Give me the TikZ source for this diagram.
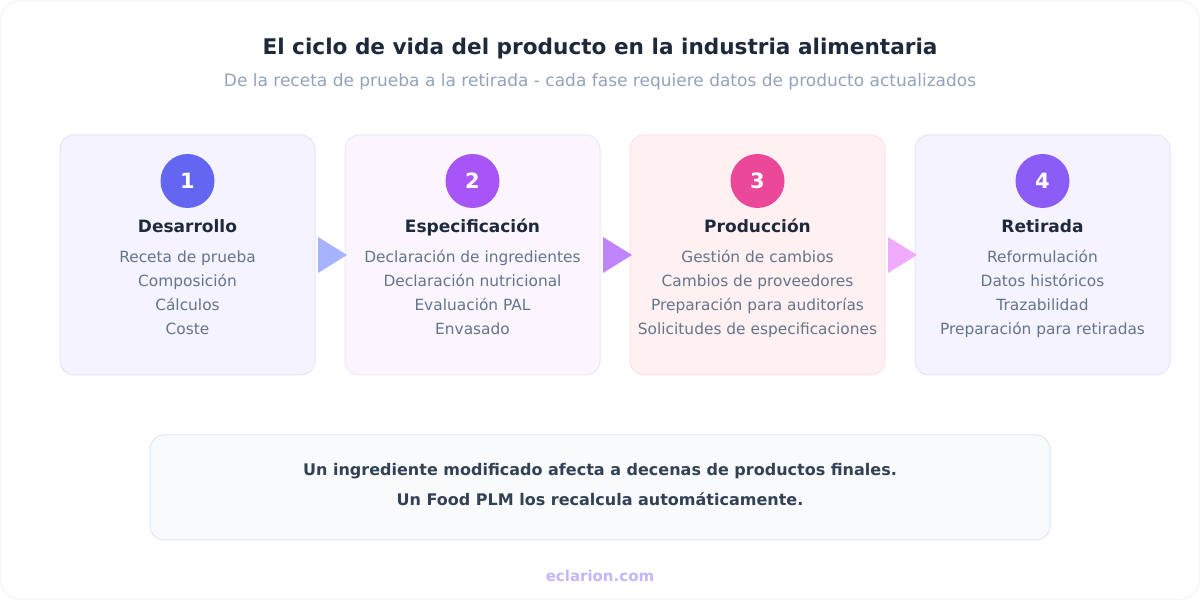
\documentclass[tikz,border=0pt]{standalone}
\usepackage{fontspec}
\setmainfont{DejaVu Sans}
\usetikzlibrary{positioning,calc}

\definecolor{titlecol}{HTML}{1E293B}
\definecolor{subcol}{HTML}{94A3B8}
\definecolor{itemcol}{HTML}{64748B}
\definecolor{notecol}{HTML}{334155}
\definecolor{notefill}{HTML}{F8FAFC}
\definecolor{noteline}{HTML}{E2E8F0}
\definecolor{footcol}{HTML}{C4B5FD}
\definecolor{fillA}{HTML}{F5F3FF}\definecolor{lineA}{HTML}{E4E4FB}
\definecolor{fillB}{HTML}{FAF5FF}\definecolor{lineB}{HTML}{F1E6FD}
\definecolor{fillC}{HTML}{FFF1F2}\definecolor{lineC}{HTML}{FDE2E6}
\definecolor{fillD}{HTML}{F5F3FF}\definecolor{lineD}{HTML}{E9E5FD}
\definecolor{numA}{HTML}{6366F1}
\definecolor{numB}{HTML}{A855F7}
\definecolor{numC}{HTML}{EC4899}
\definecolor{numD}{HTML}{8B5CF6}
\definecolor{arrA}{HTML}{A5B4FC}
\definecolor{arrB}{HTML}{C084FC}
\definecolor{arrC}{HTML}{F0ABFC}

\tikzset{
  phase/.style={draw=#1, line width=1pt, rounded corners=14pt, outer sep=0pt, minimum width=255pt, minimum height=240pt},
  badge/.style={circle, fill=#1, minimum size=54pt, inner sep=0pt, text=white, font=\fontsize{21}{21}\selectfont\bfseries},
  phasetitle/.style={text=titlecol, font=\fontsize{17}{17}\selectfont\bfseries, text height=12pt, text depth=4pt, inner sep=0pt},
  item/.style={text=itemcol, font=\fontsize{15.4}{15.4}\selectfont, anchor=base},
}

\begin{document}
\begin{tikzpicture}[x=1pt,y=1pt]
    \useasboundingbox (0,0) rectangle (1200,600);
    \draw[draw=black!8, fill=white, rounded corners=20pt] (0.5,0.5) rectangle (1199.5,599.5);

    % heading
    \node (title) at (600,551) [text=titlecol, font=\fontsize{21.6}{21.6}\selectfont\bfseries] {El ciclo de vida del producto en la industria alimentaria};
    \node (subtitle) at (600,518) [text=subcol, font=\fontsize{17}{17}\selectfont] {De la receta de prueba a la retirada - cada fase requiere datos de producto actualizados};

    % phases
    \node (des) at (187.5,345) [phase=lineA, fill=fillA] {};
    \node (esp) [phase=lineB, fill=fillB, right=30pt of des] {};
    \node (pro) [phase=lineC, fill=fillC, right=30pt of esp] {};
    \node (ret) [phase=lineD, fill=fillD, right=30pt of pro] {};

    \node (n1) at ($(des.north)+(0,-46)$) [badge=numA] {1};
    \node (n2) at ($(esp.north)+(0,-46)$) [badge=numB] {2};
    \node (n3) at ($(pro.north)+(0,-46)$) [badge=numC] {3};
    \node (n4) at ($(ret.north)+(0,-46)$) [badge=numD] {4};

    \node (t1) at ($(n1)+(0,-48)$) [phasetitle] {Desarrollo};
    \node (t2) at ($(n2)+(0,-48)$) [phasetitle] {Especificación};
    \node (t3) at ($(n3)+(0,-48)$) [phasetitle] {Producción};
    \node (t4) at ($(n4)+(0,-48)$) [phasetitle] {Retirada};

    \foreach \txt [count=\i] in {Receta de prueba, Composición, Cálculos, Coste}
        \node (i1\i) at ($(t1)+(0,-10-24*\i)$) [item] {\txt};
    \foreach \txt [count=\i] in {Declaración de ingredientes, Declaración nutricional, Evaluación PAL, Envasado}
        \node (i2\i) at ($(t2)+(0,-10-24*\i)$) [item] {\txt};
    \foreach \txt [count=\i] in {Gestión de cambios, Cambios de proveedores, Preparación para auditorías, Solicitudes de especificaciones}
        \node (i3\i) at ($(t3)+(0,-10-24*\i)$) [item] {\txt};
    \foreach \txt [count=\i] in {Reformulación, Datos históricos, Trazabilidad, Preparación para retiradas}
        \node (i4\i) at ($(t4)+(0,-10-24*\i)$) [item] {\txt};

    % arrows between phases
    \fill[arrA] ($(des.east)+(3,18)$) -- ($(des.east)+(3,-18)$) -- ($(esp.west)+(2,0)$) -- cycle;
    \fill[arrB] ($(esp.east)+(3,18)$) -- ($(esp.east)+(3,-18)$) -- ($(pro.west)+(2,0)$) -- cycle;
    \fill[arrC] ($(pro.east)+(3,18)$) -- ($(pro.east)+(3,-18)$) -- ($(ret.west)+(2,0)$) -- cycle;

    % note
    \node (note) at (600,112.5) [draw=noteline, fill=notefill, line width=1pt, rounded corners=14pt,
        minimum width=900pt, minimum height=105pt] {};
    \node (notetext) at ($(note.center)+(0,3)$) [align=center, text=notecol,
        font=\fontsize{16}{30}\selectfont\bfseries] {Un ingrediente modificado afecta a decenas de productos finales.\\Un Food PLM los recalcula automáticamente.};

    \node (foot) at (600,24) [text=footcol, font=\fontsize{15}{15}\selectfont\bfseries] {eclarion.com};
\end{tikzpicture}
\end{document}
